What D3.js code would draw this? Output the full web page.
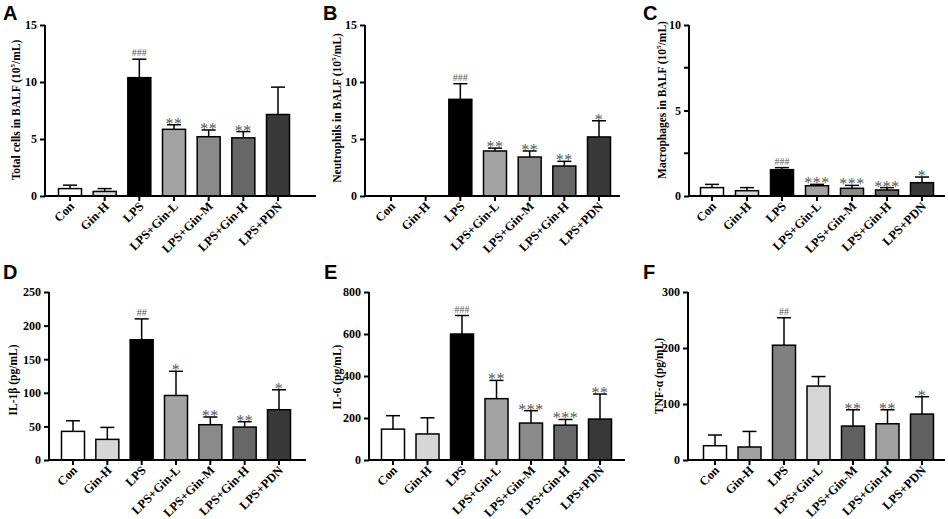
<!DOCTYPE html>
<html><head><meta charset="utf-8">
<script src="https://cdn.jsdelivr.net/npm/d3@7"></script>
<style>body{margin:0;background:#fff}svg{display:block}</style>
</head><body>
<svg id="c" width="948" height="519"></svg>
<script>
const categories = ["Con","Gin-H","LPS","LPS+Gin-L","LPS+Gin-M","LPS+Gin-H","LPS+PDN"];

const totalCells    = [0.65, 0.4, 10.38, 5.85, 5.2, 5.1, 7.15];
const totalCellsErr = [0.3, 0.25, 1.62, 0.4, 0.59, 0.55, 2.4];
const totalCellsSig = ["", "", "###", "**", "**", "**", ""];

const neutrophils    = [0, 0, 8.48, 3.95, 3.42, 2.63, 5.18];
const neutrophilsErr = [0, 0, 1.37, 0.25, 0.53, 0.41, 1.42];
const neutrophilsSig = ["", "", "###", "**", "**", "**", "*"];

const macrophages    = [0.49, 0.31, 1.54, 0.6, 0.45, 0.35, 0.78];
const macrophagesErr = [0.19, 0.18, 0.12, 0.08, 0.17, 0.14, 0.33];
const macrophagesSig = ["", "", "###", "***", "***", "***", "*"];

const il1b    = [42.6, 30.7, 179, 96, 52.5, 49, 74.8];
const il1bErr = [15.8, 17.8, 31, 36, 11.5, 8, 29.7];
const il1bSig = ["", "", "##", "*", "**", "**", "*"];

const il6    = [147, 124, 600, 292, 176, 166, 195];
const il6Err = [64, 77, 88, 87, 59, 27, 119];
const il6Sig = ["", "", "###", "**", "***", "***", "**"];

const tnfa    = [25.5, 23.2, 205, 132, 60.6, 64.7, 82];
const tnfaErr = [19.1, 27.8, 49, 17, 29.1, 25, 31];
const tnfaSig = ["", "", "##", "", "**", "**", "*"];

const cellFills = ["#ffffff","#d6d6d6","#000000","#a3a3a3","#8a8a8a","#676767","#393939"];
const tnfFills  = ["#ffffff","#a0a0a0","#808080","#d5d5d5","#606060","#a0a0a0","#606060"];

const ticksA = [0,5,10,15], ticksC = [0,5,10], minorC = [2.5,7.5];
const ticksD = [0,50,100,150,200,250], ticksE = [0,200,400,600,800], ticksF = [0,100,200,300];

const panels = [
  {letter:"A", lx:3, ly:20, ax:45, top:25, bot:196, x0:70, x1:278, xe:316, max:15, ticks:ticksA, minor:[],
   vals:totalCells, errs:totalCellsErr, sig:totalCellsSig, fills:cellFills,
   title:["Total cells in BALF (10","5","/mL)"], tx:17, ty:110},
  {letter:"B", lx:323, ly:20, ax:365, top:25, bot:196, x0:391, x1:599, xe:620, max:15, ticks:ticksA, minor:[],
   vals:neutrophils, errs:neutrophilsErr, sig:neutrophilsSig, fills:cellFills,
   title:["Neutrophils in BALF (10","5","/mL)"], tx:338, ty:108},
  {letter:"C", lx:643, ly:20, ax:689, top:25, bot:196, x0:712, x1:922, xe:945, max:10, ticks:ticksC, minor:minorC,
   vals:macrophages, errs:macrophagesErr, sig:macrophagesSig, fills:cellFills,
   title:["Macrophages in BALF (10","5","/mL)"], tx:663, ty:100},
  {letter:"D", lx:3, ly:279, ax:49, top:292, bot:460, x0:73, x1:279, xe:306, max:250, ticks:ticksD, minor:[],
   vals:il1b, errs:il1bErr, sig:il1bSig, fills:cellFills,
   title:["IL-1β (pg/mL)"], tx:14, ty:380},
  {letter:"E", lx:324, ly:279, ax:369, top:292, bot:460, x0:393, x1:600, xe:625, max:800, ticks:ticksE, minor:[],
   vals:il6, errs:il6Err, sig:il6Sig, fills:cellFills,
   title:["IL-6 (pg/mL)"], tx:338, ty:377},
  {letter:"F", lx:643, ly:279, ax:688, top:292, bot:460, x0:715, x1:922, xe:945, max:300, ticks:ticksF, minor:[],
   vals:tnfa, errs:tnfaErr, sig:tnfaSig, fills:tnfFills,
   title:["TNF-α (pg/mL)"], tx:660, ty:376}
];

const svg = d3.select("#c");
const serif = "'Liberation Serif','Times New Roman',serif";
const BW = 23, CAP = 14;

panels.forEach(p => {
  const g = svg.append("g");
  const y = d3.scaleLinear().domain([0, p.max]).range([p.bot, p.top]);
  const x = d3.scalePoint().domain(categories).range([p.x0, p.x1]);

  g.append("text").attr("x", p.lx).attr("y", p.ly)
    .attr("font-family","'Liberation Sans',Arial,sans-serif").attr("font-weight","bold")
    .attr("font-size", 20).text(p.letter);

  const sigG = g.append("g").attr("opacity", 0.99);

  categories.forEach((c, i) => {
    const v = p.vals[i], e = p.errs[i], cx = x(c);
    if (v > 0) {
      g.append("line").attr("x1", cx).attr("x2", cx).attr("y1", y(v)).attr("y2", y(v + e))
        .attr("stroke","#000").attr("stroke-width",1.5);
      g.append("line").attr("x1", cx - CAP/2).attr("x2", cx + CAP/2).attr("y1", y(v + e)).attr("y2", y(v + e))
        .attr("stroke","#000").attr("stroke-width",1.5);
      g.append("rect").attr("x", cx - BW/2).attr("y", y(v)).attr("width", BW).attr("height", p.bot - y(v))
        .attr("fill", p.fills[i]).attr("stroke","#000").attr("stroke-width",1.5);
    }
    const s = p.sig[i];
    if (s) {
      const isHash = s[0] === "#";
      sigG.append("text").attr("x", cx).attr("y", y(v + e) - (isHash ? 3 : -4))
        .attr("text-anchor","middle").attr("fill","#555")
        .attr("font-family", serif)
        .attr("font-size", isHash ? 10 : 16)
        .attr("letter-spacing", isHash ? 0 : 0.5)
        .text(s);
    }
  });

  const ya = d3.axisLeft(y).tickValues(p.ticks).tickSize(5).tickPadding(3).tickFormat(d3.format("d"));
  const yg = g.append("g").attr("transform", `translate(${p.ax},0)`).call(ya);
  yg.select(".domain").attr("stroke","#000").attr("stroke-width",2).attr("d", `M0,${p.top}V${p.bot}`);
  yg.selectAll(".tick line").attr("stroke-width",2);
  yg.selectAll("text").attr("font-family", serif).attr("font-weight","bold").attr("font-size", 12);
  p.minor.forEach(m => {
    g.append("line").attr("x1", p.ax - 5).attr("x2", p.ax).attr("y1", y(m)).attr("y2", y(m))
      .attr("stroke","#000").attr("stroke-width",2);
  });

  g.append("line").attr("x1", p.ax - 1).attr("x2", p.xe).attr("y1", p.bot).attr("y2", p.bot)
    .attr("stroke","#000").attr("stroke-width",2);
  categories.forEach(c => {
    g.append("line").attr("x1", x(c)).attr("x2", x(c)).attr("y1", p.bot).attr("y2", p.bot + 5)
      .attr("stroke","#000").attr("stroke-width",2);
    g.append("text")
      .attr("transform", `translate(${x(c) + 5},${p.bot + 11}) rotate(-45)`)
      .attr("text-anchor","end").attr("font-family", serif).attr("font-weight","bold")
      .attr("font-size", 12.5).text(c);
  });

  const t = g.append("text").attr("transform", `translate(${p.tx},${p.ty}) rotate(-90)`)
    .attr("text-anchor","middle").attr("dominant-baseline","middle")
    .attr("font-family", serif).attr("font-weight","bold").attr("font-size", 11.5);
  if (p.title.length === 3) {
    t.append("tspan").text(p.title[0]);
    t.append("tspan").attr("baseline-shift","super").attr("font-size", 7).text(p.title[1]);
    t.append("tspan").text(p.title[2]);
  } else {
    t.text(p.title[0]);
  }
});
</script>
</body></html>
